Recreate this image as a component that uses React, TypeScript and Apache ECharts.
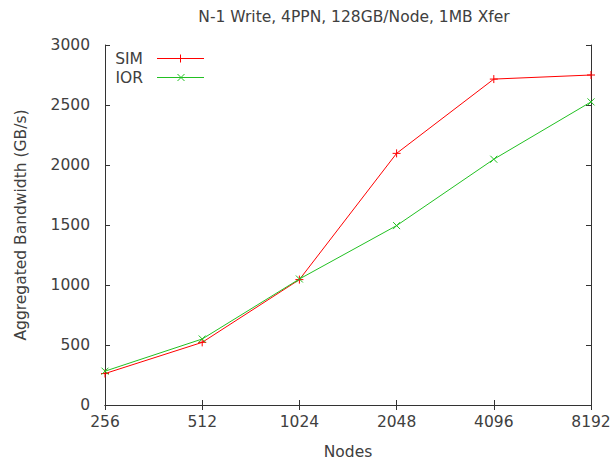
import React, { useEffect, useRef } from "react";
import * as echarts from "echarts";

const nodes = ["256", "512", "1024", "2048", "4096", "8192"];
const simValues = [262, 522, 1045, 2097, 2716, 2750];
const iorValues = [282, 550, 1050, 1495, 2048, 2526];
const yTicks = { min: 0, max: 3000, interval: 500 };

const TITLE = "N-1 Write, 4PPN, 128GB/Node, 1MB Xfer";
const X_NAME = "Nodes";
const Y_NAME = "Aggregated Bandwidth (GB/s)";

const FONT = "DejaVu Sans";
const FS = 15.5;
const TEXT = "#404040";
const AXIS = "#333333";
const RED = "#ff0000";
const GREEN = "#22c022";

const PLUS = "path://M0,5L10,5M5,0L5,10";
const CROSS = "path://M0,0L10,10M10,0L0,10";

export default function App() {
  const ref = useRef<HTMLDivElement>(null);
  useEffect(() => {
    document.body.style.margin = "0";
    if (!ref.current) return;
    const chart = echarts.init(ref.current, undefined, { renderer: "svg" });
    const axisLine = { show: true, lineStyle: { color: AXIS, width: 1 } };
    const tick = { show: true, inside: true, length: 5, lineStyle: { color: AXIS } };
    const label = { color: TEXT, fontFamily: FONT, fontSize: FS };
    chart.setOption({
      animation: false,
      backgroundColor: "#ffffff",
      title: {
        text: TITLE,
        left: 349,
        textAlign: "center",
        top: 4,
        textStyle: { color: TEXT, fontFamily: FONT, fontSize: FS, fontWeight: "normal" },
      },
      grid: { left: 105, right: 25, top: 45, bottom: 57, containLabel: false },
      xAxis: [
        {
          type: "category",
          data: nodes,
          boundaryGap: false,
          axisLine,
          axisTick: { ...tick, alignWithLabel: true },
          axisLabel: { ...label, margin: 9 },
          splitLine: { show: false },
          name: X_NAME,
          nameLocation: "middle",
          nameGap: 39,
          nameTextStyle: { color: TEXT, fontFamily: FONT, fontSize: FS },
        },
        {
          type: "category",
          data: nodes,
          boundaryGap: false,
          position: "top",
          axisLine,
          axisTick: tick,
          axisLabel: { show: false },
          splitLine: { show: false },
        },
      ],
      yAxis: [
        {
          type: "value",
          min: yTicks.min,
          max: yTicks.max,
          interval: yTicks.interval,
          axisLine,
          axisTick: tick,
          axisLabel: { ...label, margin: 15, formatter: (v: number) => String(v) },
          splitLine: { show: false },
          name: Y_NAME,
          nameLocation: "middle",
          nameGap: 76,
          nameTextStyle: { color: TEXT, fontFamily: FONT, fontSize: FS },
        },
        {
          type: "value",
          position: "right",
          min: yTicks.min,
          max: yTicks.max,
          interval: yTicks.interval,
          axisLine,
          axisTick: tick,
          axisLabel: { show: false },
          splitLine: { show: false },
        },
      ],
      series: [
        {
          name: "SIM",
          type: "line",
          data: simValues,
          symbol: PLUS,
          symbolSize: 8,
          showSymbol: true,
          lineStyle: { color: RED, width: 1 },
          itemStyle: { color: RED, borderColor: RED, borderWidth: 1 },
        },
        {
          name: "IOR",
          type: "line",
          data: iorValues,
          symbol: CROSS,
          symbolSize: 7,
          showSymbol: true,
          lineStyle: { color: GREEN, width: 1 },
          itemStyle: { color: GREEN, borderColor: GREEN, borderWidth: 1 },
        },
      ],
      graphic: [
        { type: "text", x: 143, y: 58.5, style: { text: "SIM", fill: TEXT, font: `${FS}px "${FONT}"`, align: "right", verticalAlign: "middle" } },
        { type: "line", shape: { x1: 157, y1: 58.5, x2: 204, y2: 58.5 }, style: { stroke: RED, lineWidth: 1 } },
        { type: "line", shape: { x1: 180.5, y1: 54.5, x2: 180.5, y2: 62.5 }, style: { stroke: RED, lineWidth: 1 } },
        { type: "text", x: 143, y: 77.5, style: { text: "IOR", fill: TEXT, font: `${FS}px "${FONT}"`, align: "right", verticalAlign: "middle" } },
        { type: "line", shape: { x1: 157, y1: 77.5, x2: 204, y2: 77.5 }, style: { stroke: GREEN, lineWidth: 1 } },
        { type: "line", shape: { x1: 177.5, y1: 74, x2: 184.5, y2: 81 }, style: { stroke: GREEN, lineWidth: 1 } },
        { type: "line", shape: { x1: 184.5, y1: 74, x2: 177.5, y2: 81 }, style: { stroke: GREEN, lineWidth: 1 } },
      ],
    });
    return () => chart.dispose();
  }, []);
  return <div ref={ref} style={{ width: 616, height: 465 }} />;
}
